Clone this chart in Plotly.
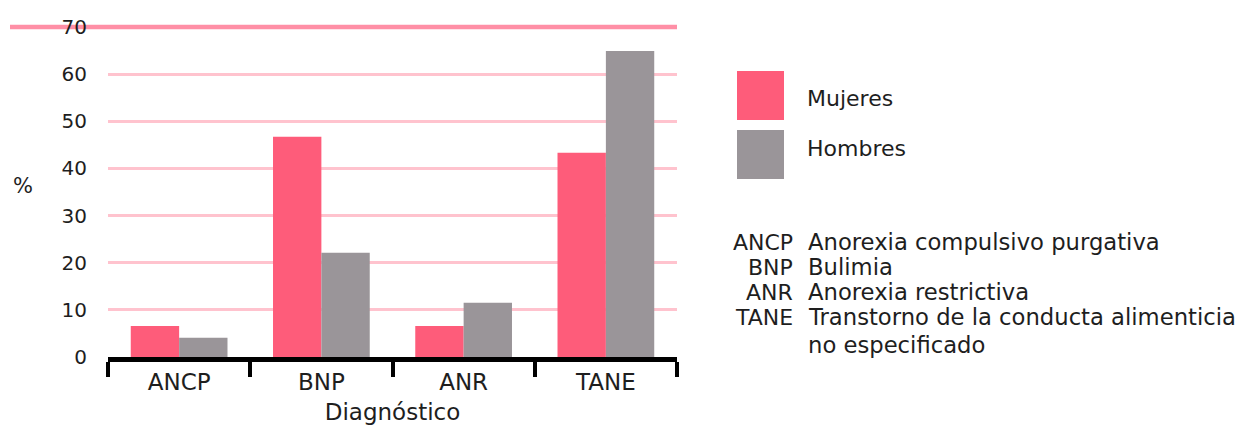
import plotly.graph_objects as go

# Diagnostic categories and percentages by sex
categorias = ["ANCP", "BNP", "ANR", "TANE"]
mujeres = [6.6, 46.7, 6.6, 43.3]
hombres = [4.1, 22.1, 11.5, 64.9]
y_ticks = [0, 10, 20, 30, 40, 50, 60, 70]

# Abbreviation glossary shown beside the chart
siglas = ["ANCP", "BNP", "ANR", "TANE", ""]
descripciones = [
    "Anorexia compulsivo purgativa",
    "Bulimia",
    "Anorexia restrictiva",
    "Transtorno de la conducta alimenticia",
    "no especificado",
]

ROSA = "#FE5C7A"
GRIS = "#9A9599"
TEXTO = "#1e1e1e"
FONT = "DejaVu Sans"

fig = go.Figure()
fig.add_trace(go.Bar(x=categorias, y=mujeres, name="Mujeres",
                     marker=dict(color=ROSA, line=dict(width=0))))
fig.add_trace(go.Bar(x=categorias, y=hombres, name="Hombres",
                     marker=dict(color=GRIS, line=dict(width=0))))

W, H = 1245, 430
L, R, T, B = 108, 568, 27, 73
pw, ph = W - L - R, H - T - B


def px(p):
    return (p - L) / pw


def py(q):
    return (H - B - q) / ph


fig.update_layout(
    width=W, height=H,
    margin=dict(l=L, r=R, t=T, b=B, pad=0, autoexpand=False),
    paper_bgcolor="white", plot_bgcolor="white",
    barmode="group", bargap=0.32, bargroupgap=0,
    showlegend=False,
    font=dict(family=FONT, size=22, color=TEXTO),
)

fig.update_xaxes(
    type="category", range=[-0.5, 3.5], automargin=False,
    showline=True, linecolor="black", linewidth=5,
    ticks="outside", tickson="boundaries", ticklen=15, tickwidth=4,
    tickcolor="black", showgrid=False,
    tickfont=dict(size=23, color=TEXTO), ticklabelstandoff=0,
    title=dict(text="Diagnóstico", font=dict(size=23, color=TEXTO), standoff=12),
)

fig.update_yaxes(
    range=[0, 70], tickvals=y_ticks, ticks="", showline=False, automargin=False,
    showgrid=True, gridcolor="#FFC3CE", gridwidth=3, zeroline=False,
    tickfont=dict(size=20, color=TEXTO), ticklabelstandoff=20,
)

# Top reference line at 70 extends left across the tick labels
fig.add_shape(type="line", xref="paper", yref="paper", x0=px(10), x1=1,
              y0=1, y1=1, line=dict(color="#FF8FA6", width=4.5), layer="below")

# "%" axis label
fig.add_annotation(text="%", xref="paper", yref="paper", x=px(23), y=py(186),
                   xanchor="center", yanchor="middle",
                   showarrow=False, font=dict(size=21, color=TEXTO))

# Custom legend with large swatches
for nombre, color, top, ytxt in [("Mujeres", ROSA, 71, 98), ("Hombres", GRIS, 130, 148)]:
    fig.add_shape(type="rect", xref="paper", yref="paper",
                  x0=px(737), x1=px(784), y0=py(top + 49), y1=py(top),
                  fillcolor=color, line=dict(width=0))
    fig.add_annotation(text=nombre, xref="paper", yref="paper",
                       x=px(805), y=py(ytxt), xanchor="left", yanchor="middle",
                       showarrow=False, font=dict(size=22, color=TEXTO))

# Glossary lines
y0, paso = 242, 25
for i, (s, d) in enumerate(zip(siglas, descripciones)):
    yy = y0 + i * paso + (3 if i == 4 else 0)
    if s:
        fig.add_annotation(text=s, xref="paper", yref="paper", x=px(795), y=py(yy),
                           xanchor="right", yanchor="middle", showarrow=False,
                           font=dict(size=22, color=TEXTO))
    fig.add_annotation(text=d, xref="paper", yref="paper", x=px(806), y=py(yy),
                       xanchor="left", yanchor="middle", showarrow=False,
                       font=dict(size=22.7, color=TEXTO))

fig.write_html("out.html")
